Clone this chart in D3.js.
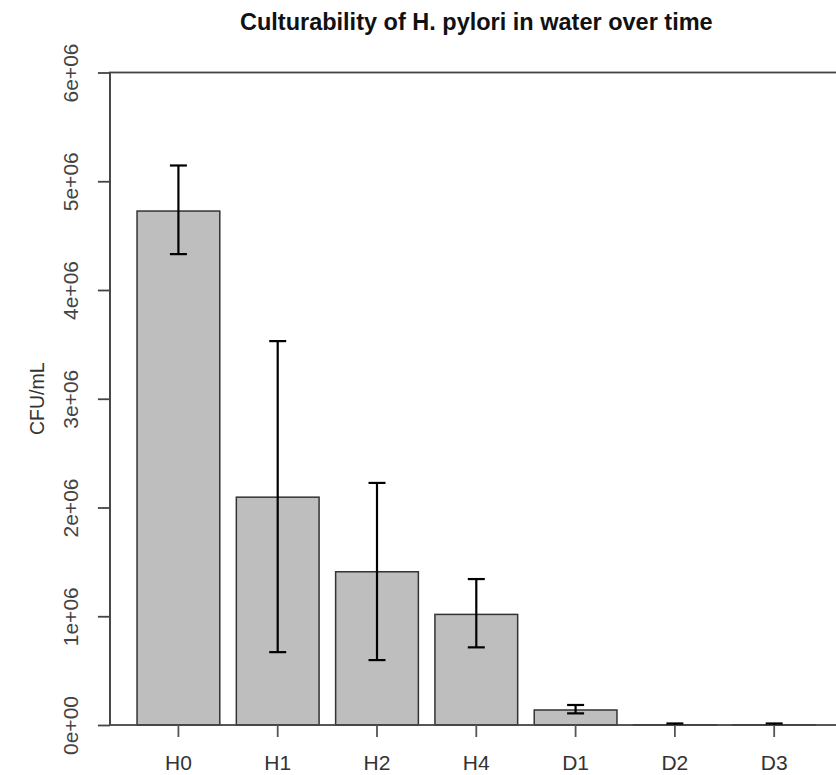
<!DOCTYPE html>
<html><head><meta charset="utf-8">
<script src="https://cdn.jsdelivr.net/npm/d3@7"></script>
<style>body{margin:0;background:#fff;} svg{display:block;font-family:"Liberation Sans",Arial,sans-serif;}</style>
</head><body>
<svg id="c" width="836" height="775"></svg>
<script>
const categories = ["H0","H1","H2","H4","D1","D2","D3"];
const means = [4726000, 2095000, 1409000, 1017000, 138000, 2000, 2000];
const upper = [5145000, 3530000, 2226000, 1342000, 184000, 14000, 14000];
const lower = [4330000, 670000, 597000, 714000, 107000, 0, 0];
const yTicks = [0, 1000000, 2000000, 3000000, 4000000, 5000000, 6000000];
const yTickLabels = ["0e+00","1e+06","2e+06","3e+06","4e+06","5e+06","6e+06"];
const title = "Culturability of H. pylori in water over time";
const yTitle = "CFU/mL";

const svg = d3.select("#c");
const plotL = 109.9, plotR = 842.7, plotT = 72.5, plotB = 725;
const n = categories.length;
const xmin = 0.2, xmax = 1.2*n; // 8.4
const ext = (xmax - xmin) * 0.04;
const x = d3.scaleLinear().domain([xmin - ext, xmax + ext]).range([plotL, plotR]);
const y = d3.scaleLinear().domain([0, 6000000]).range([plotB, plotT]);

const data = categories.map((c,i)=>({c, v:means[i], hi:upper[i], lo:lower[i], l:0.2+1.2*i, r:1.2+1.2*i, m:0.7+1.2*i}));

svg.append("g").selectAll("rect").data(data).join("rect")
  .attr("x", d=>x(d.l)).attr("width", d=>x(d.r)-x(d.l))
  .attr("y", d=>y(d.v)).attr("height", d=>y(0)-y(d.v))
  .attr("fill","#bebebe").attr("stroke","#333").attr("stroke-width",1.5);

svg.append("rect").attr("x",plotL).attr("y",plotT).attr("width",plotR-plotL).attr("height",plotB-plotT)
  .attr("fill","none").attr("stroke","#444").attr("stroke-width",1.8);

const eb = svg.append("g").attr("stroke","#000").attr("stroke-width",2.2).attr("fill","none");
const capW = 8.5;
data.forEach(d=>{
  const cx = x(d.m);
  eb.append("line").attr("x1",cx).attr("x2",cx).attr("y1",y(d.lo)).attr("y2",y(d.hi));
  eb.append("line").attr("x1",cx-capW).attr("x2",cx+capW).attr("y1",y(d.hi)).attr("y2",y(d.hi));
  if (d.lo > 0) eb.append("line").attr("x1",cx-capW).attr("x2",cx+capW).attr("y1",y(d.lo)).attr("y2",y(d.lo));
});

const yAxis = d3.axisLeft(y).tickValues(yTicks).tickFormat((d,i)=>yTickLabels[i]).tickSize(12).tickPadding(0);
const ga = svg.append("g").attr("transform",`translate(${plotL},0)`).call(yAxis);
ga.attr("font-size",null).attr("font-family",null);
ga.select(".domain").attr("stroke","#444").attr("stroke-width",1.8).attr("d",`M0,${plotT}V${plotB}`);
ga.selectAll(".tick line").attr("stroke","#444").attr("stroke-width",1.8);
ga.selectAll(".tick text").attr("transform","rotate(-90)").attr("x",0).attr("y",-32)
  .attr("dy","0").attr("text-anchor","middle").style("font-size","21px").attr("fill","#444");

const gx = svg.append("g");
data.forEach((d,i)=>{
  const cx = x(d.m);
  gx.append("line").attr("x1",cx).attr("x2",cx).attr("y1",plotB).attr("y2",plotB+12).attr("stroke","#555").attr("stroke-width",1.8);
  gx.append("text").attr("x",cx).attr("y",770).attr("text-anchor","middle").style("font-size","21px").attr("fill","#333").text(categories[i]);
});

svg.append("text").attr("x",(plotL+plotR)/2).attr("y",30).attr("text-anchor","middle")
  .style("font-size","23.5px").attr("font-weight","bold").attr("fill","#111").text(title);
svg.append("text").attr("transform",`translate(44,${(plotT+plotB)/2}) rotate(-90)`).attr("text-anchor","middle")
  .style("font-size","19.5px").attr("fill","#333").text(yTitle);
</script>
</body></html>
